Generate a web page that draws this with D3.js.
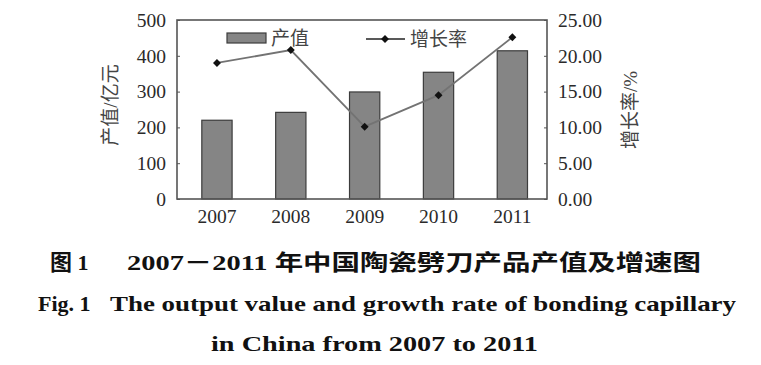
<!DOCTYPE html>
<html>
<head>
<meta charset="utf-8">
<script src="https://cdn.jsdelivr.net/npm/d3@7"></script>
<style>
	body { margin: 0; background: #fff; }
	svg { display: block; }
	.serif { font-family: "Liberation Serif", "Times New Roman", Times, serif; }
	.cjk { font-family: "Liberation Serif", "Noto Sans CJK SC", serif; }
</style>
</head>
<body>
<svg id="chart" width="761" height="365"></svg>
<script>
// Output value (bars, left axis) and growth rate (line, right axis)
var years = ["2007", "2008", "2009", "2010", "2011"];
var outputVals = [220, 242, 299, 354, 414];
var growthVals = [19.0, 20.8, 10.1, 14.5, 22.6];
var leftTicks = [0, 100, 200, 300, 400, 500];
var rightTicks = [0, 5, 10, 15, 20, 25];

var svg = d3.select("#chart");
var m = { l: 177, r: 547, t: 20, b: 199 };
var txtClr = "#2a2a2a";

var x = d3.scaleBand().domain(years).range([m.l, m.r]).paddingInner(0.59).paddingOuter(0.3).align(0.56);
var yL = d3.scaleLinear().domain([0, 500]).range([m.b, m.t]);
var yR = d3.scaleLinear().domain([0, 25]).range([m.b, m.t]);

	// Bars
svg.append("g").selectAll("rect")
	.data(outputVals)
	.enter()
	.append("rect")
	.attr("x", function(d, i) { return x(years[i]); })
	.attr("y", function(d) { return yL(d); })
	.attr("width", x.bandwidth())
	.attr("height", function(d) { return yL(0) - yL(d); })
	.attr("fill", "#858585")
	.attr("stroke", "#3c3c3c")
	.attr("stroke-width", 1.2);

	// Growth line
var line = d3.line()
	.x(function(d, i) { return x(years[i]) + x.bandwidth()/2; })
	.y(function(d) { return yR(d); });
svg.append("path")
	.datum(growthVals)
	.attr("d", line)
	.attr("fill", "none")
	.attr("stroke", "#737373")
	.attr("stroke-width", 1.8);

var diamond = d3.symbol().type(d3.symbolDiamond2).size(40);
svg.append("g").selectAll("path")
	.data(growthVals)
	.enter()
	.append("path")
	.attr("d", diamond)
	.attr("transform", function(d, i) { return "translate(" + (x(years[i]) + x.bandwidth()/2) + "," + yR(d) + ")"; })
	.attr("fill", "#111");

	// Frame
svg.append("rect")
	.attr("x", m.l).attr("y", m.t)
	.attr("width", m.r - m.l).attr("height", m.b - m.t)
	.attr("fill", "none")
	.attr("stroke", "#555")
	.attr("stroke-width", 1.6);

	// Axes (short inward ticks)
var axL = svg.append("g")
	.attr("transform", "translate(" + m.l + ",0)")
	.call(d3.axisLeft(yL).tickValues(leftTicks).tickSize(-3).tickPadding(11));
var axR = svg.append("g")
	.attr("transform", "translate(" + m.r + ",0)")
	.call(d3.axisRight(yR).tickValues(rightTicks).tickSize(-3).tickPadding(11).tickFormat(d3.format(".2f")));
var axB = svg.append("g")
	.attr("transform", "translate(0," + m.b + ")")
	.call(d3.axisBottom(x).tickSize(0).tickPadding(10));

[axL, axR, axB].forEach(function(ax) {
	ax.attr("font-family", null);
	ax.select(".domain").remove();
	ax.selectAll("line").attr("stroke", "#555");
	ax.selectAll("text")
		.attr("class", "serif")
		.style("font-size", "19.5px")
		.attr("fill", txtClr);
});

	// Axis titles
svg.append("text")
	.attr("class", "cjk")
	.attr("transform", "translate(117,105) rotate(-90)")
	.attr("text-anchor", "middle")
	.style("font-size", "19px")
	.attr("fill", "#444")
	.text("产值/亿元");
svg.append("text")
	.attr("class", "cjk")
	.attr("transform", "translate(637,110) rotate(-90)")
	.attr("text-anchor", "middle")
	.style("font-size", "19px")
	.attr("fill", "#444")
	.text("增长率/%");

	// Legend
var lg = svg.append("g");
lg.append("rect")
	.attr("x", 227).attr("y", 33).attr("width", 39).attr("height", 10)
	.attr("fill", "#858585").attr("stroke", "#3c3c3c").attr("stroke-width", 1.2);
lg.append("text")
	.attr("class", "cjk")
	.attr("x", 271).attr("y", 45)
	.style("font-size", "19px").attr("fill", "#444")
	.text("产值");
lg.append("line")
	.attr("x1", 366).attr("x2", 405).attr("y1", 39).attr("y2", 39)
	.attr("stroke", "#222").attr("stroke-width", 1.6);
lg.append("path")
	.attr("d", diamond)
	.attr("transform", "translate(385,39)")
	.attr("fill", "#111");
lg.append("text")
	.attr("class", "cjk")
	.attr("x", 410).attr("y", 46)
	.style("font-size", "19px").attr("fill", "#444")
	.text("增长率");

	// Captions
function caption(tx, xx, yy, len) {
	var t = svg.append("text")
		.attr("class", "cjk")
		.attr("x", xx).attr("y", yy)
		.style("font-weight", "bold")
		.style("font-size", "22px")
		.attr("fill", "#111")
		.text(tx);
	if (len) {
		t.attr("textLength", len).attr("lengthAdjust", "spacingAndGlyphs");
	}
}
caption("图 1", 50, 270, 0);
caption("2007－2011 年中国陶瓷劈刀产品产值及增速图", 127, 270, 574);
caption("Fig. 1", 38, 311, 0);
caption("The output value and growth rate of bonding capillary", 110, 311, 626);
caption("in China from 2007 to 2011", 211, 351, 327);
</script>
</body>
</html>
